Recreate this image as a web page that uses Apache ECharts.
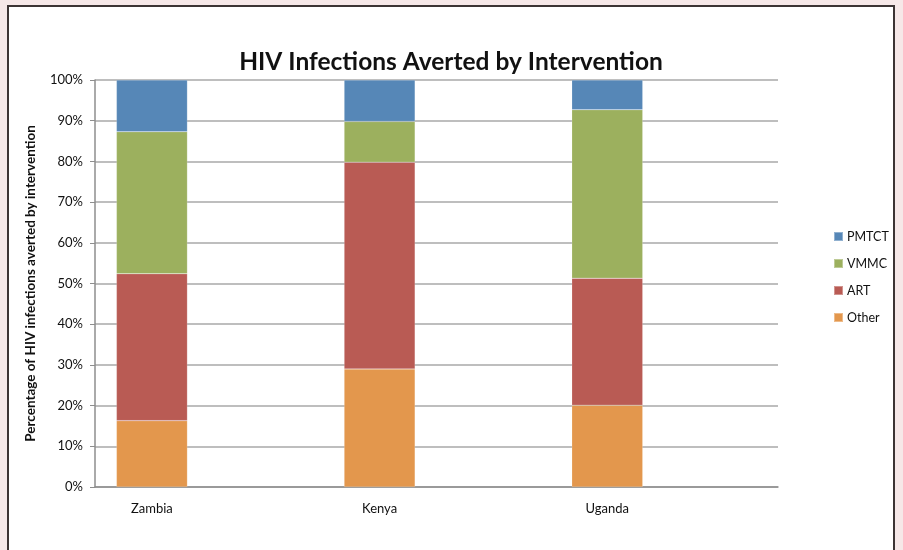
<!DOCTYPE html>
<html>
<head>
<meta charset="utf-8">
<script src="https://cdn.jsdelivr.net/npm/echarts@6/dist/echarts.min.js"></script>
<style>
  html, body { margin: 0; padding: 0; background: #f6e8e8; }
  #chart1 { width: 903px; height: 550px; }
</style>
</head>
<body>
<div id="chart1"></div>
<script>
// 类别（空位用来留出柱子间距）
var countries = ['Zambia', '', 'Kenya', '', 'Uganda', ''];
var other = [16.3, null, 29.0, null, 20.1, null];
var art = [36.1, null, 50.8, null, 31.2, null];
var vmmc = [34.9, null, 10.0, null, 41.4, null];
var pmtct = [12.7, null, 10.2, null, 7.3, null];
var yTicks = [0, 10, 20, 30, 40, 50, 60, 70, 80, 90, 100];

var font = 'Lato, "Liberation Sans", sans-serif';

function bar(name, data, color) {
    return {
        name: name,
        type: 'bar',
        stack: 'total',
        barWidth: 71,
        data: data,
        itemStyle: {color: color, borderColor: 'rgba(255,255,255,0.35)', borderWidth: 0.5}
    };
}

var myChart = echarts.init(document.getElementById('chart1'));
var option = {
    backgroundColor: 'transparent',
    textStyle: {fontFamily: font},
    graphic: [{
        type: 'rect',
        z: -10,
        shape: {x: 8, y: 6, width: 886, height: 570},
        style: {fill: '#ffffff', stroke: '#3c3434', lineWidth: 2}
    }],
    title: {
        text: 'HIV Infections Averted by Intervention',
        left: 446,
        textAlign: 'center',
        top: 45,
        textStyle: {fontFamily: font, fontWeight: 'bold', fontSize: 24.5, color: '#111'}
    },
    legend: {
        orient: 'vertical',
        left: 828,
        top: 225,
        itemWidth: 9,
        itemHeight: 9,
        itemGap: 14,
        icon: 'rect',
        data: ['PMTCT', 'VMMC', 'ART', 'Other'],
        textStyle: {fontFamily: font, fontSize: 12.5, color: '#111', padding: [0, 0, 0, -1]}
    },
    grid: {left: 95, right: 125, top: 80, bottom: 63},
    xAxis: {
        type: 'category',
        data: countries,
        axisLine: {lineStyle: {color: '#8e8e8e', width: 1.5}},
        axisTick: {length: 5, interval: 0, lineStyle: {color: '#8e8e8e'}},
        axisLabel: {interval: 0, margin: 15, fontSize: 13, color: '#111', fontFamily: font}
    },
    yAxis: {
        type: 'value',
        min: 0,
        max: 100,
        interval: 10,
        name: 'Percentage of HIV infections averted by intervention',
        nameLocation: 'middle',
        nameGap: 57,
        nameTextStyle: {fontWeight: 'bold', fontSize: 13.5, color: '#111', fontFamily: font},
        axisLine: {show: true, lineStyle: {color: '#8e8e8e', width: 1.5}},
        axisTick: {show: true, length: 5, lineStyle: {color: '#8e8e8e'}},
        axisLabel: {
            fontSize: 13, color: '#111', margin: 12, fontFamily: font,
            formatter: function (v) { return yTicks.indexOf(v) >= 0 ? v + '%' : ''; }
        },
        splitLine: {lineStyle: {color: '#a8a8a8', width: 1.5}}
    },
    series: [
        bar('Other', other, '#e3974d'),
        bar('ART', art, '#b95b54'),
        bar('VMMC', vmmc, '#9cb05e'),
        bar('PMTCT', pmtct, '#5687b7')
    ]
};

myChart.setOption(option);
</script>
</body>
</html>
